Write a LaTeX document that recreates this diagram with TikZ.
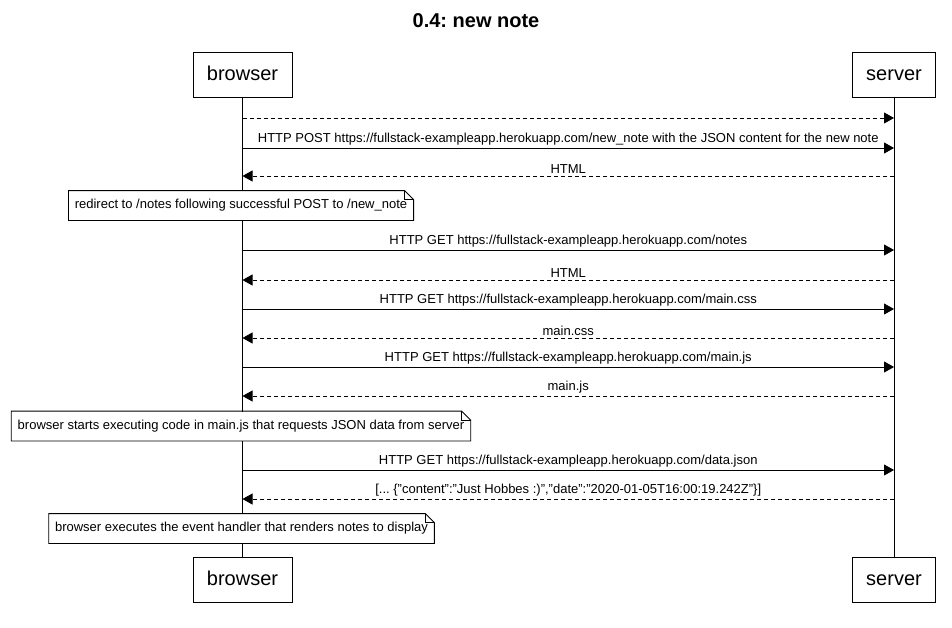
\documentclass[tikz,border=0pt]{standalone}
\usepackage{fontspec}
\setmainfont{Liberation Sans}
\usetikzlibrary{arrows.meta,positioning}
\tikzset{actor/.style={
        draw,
        rectangle,
        minimum height=45pt,
        inner xsep=14pt,
        text height=15pt,
        text depth=4pt,
        font=\fontsize{20}{24}\selectfont,
    },
    note/.style={
        fill=white,
        rectangle,
        minimum height=29pt,
        inner xsep=6pt,
        font=\fontsize{13}{15}\selectfont,
    },
    call/.style={-{Triangle[length=10pt,width=11pt]}},
    reply/.style={-{Triangle[length=10pt,width=11pt]}, dash pattern=on 4pt off 3pt},
    lbl/.style={above, inner sep=2pt, font=\fontsize{13}{15}\selectfont},
}
% dog-eared outline round a note node
\newcommand{\notefold}[1]{%
  \draw (#1.south west) -- (#1.north west) -- ([xshift=-9pt]#1.north east)
    -- ([yshift=-9pt]#1.north east) -- (#1.south east) -- cycle;
  \draw ([xshift=-9pt]#1.north east) |- ([yshift=-9pt]#1.north east);
}

\begin{document}
\frenchspacing
\begin{tikzpicture}[x=1pt,y=-1pt,line width=0.8pt]
  \useasboundingbox (0,0) rectangle (952,627);
  \node[font=\bfseries\fontsize{20}{24}\selectfont] (title) at (476,21) {0.4: new note};
  \node[actor] (bTop) at (242.5,74.5) {browser};
  \node[actor] (sTop) at (894,74.5) {server};
  \node[actor] (bBot) at (242.5,580) {browser};
  \node[actor] (sBot) at (894,580) {server};
  \draw (bTop) -- (bBot);
  \draw (sTop) -- (sBot);
  \foreach \n/\y in {1/118,2/148,3/176,4/250,5/280,6/309,7/338,8/367,9/396,10/470,11/499}
  {
    \coordinate (b\n) at (bTop |- 0,\y);
    \coordinate (s\n) at (sTop |- 0,\y);
  }
  \draw[reply] (b1) -- (s1);
  \draw[call] (b2) -- node[lbl] {HTTP POST https://fullstack-exampleapp.herokuapp.com/new\_note with the JSON content for the new note} (s2);
  \draw[reply] (s3) -- node[lbl] {HTML} (b3);
  \node[note] (redirect) at (241,205.5) {redirect to /notes following successful POST to /new\_note};
  \notefold{redirect}
  \draw[call] (b4) -- node[lbl] {HTTP GET https://fullstack-exampleapp.herokuapp.com/notes} (s4);
  \draw[reply] (s5) -- node[lbl] {HTML} (b5);
  \draw[call] (b6) -- node[lbl] {HTTP GET https://fullstack-exampleapp.herokuapp.com/main.css} (s6);
  \draw[reply] (s7) -- node[lbl] {main.css} (b7);
  \draw[call] (b8) -- node[lbl] {HTTP GET https://fullstack-exampleapp.herokuapp.com/main.js} (s8);
  \draw[reply] (s9) -- node[lbl] {main.js} (b9);
  \node[note] (execjs) at (241,426) {browser starts executing code in main.js that requests JSON data from server};
  \notefold{execjs}
  \draw[call] (b10) -- node[lbl] {HTTP GET https://fullstack-exampleapp.herokuapp.com/data.json} (s10);
  \draw[reply] (s11) -- node[lbl] {[... \{"content":"Just Hobbes :)","date":"2020-01-05T16:00:19.242Z"\}]} (b11);
  \node[note] (render) at (241.5,528.5) {browser executes the event handler that renders notes to display};
  \notefold{render}
\end{tikzpicture}
\end{document}
